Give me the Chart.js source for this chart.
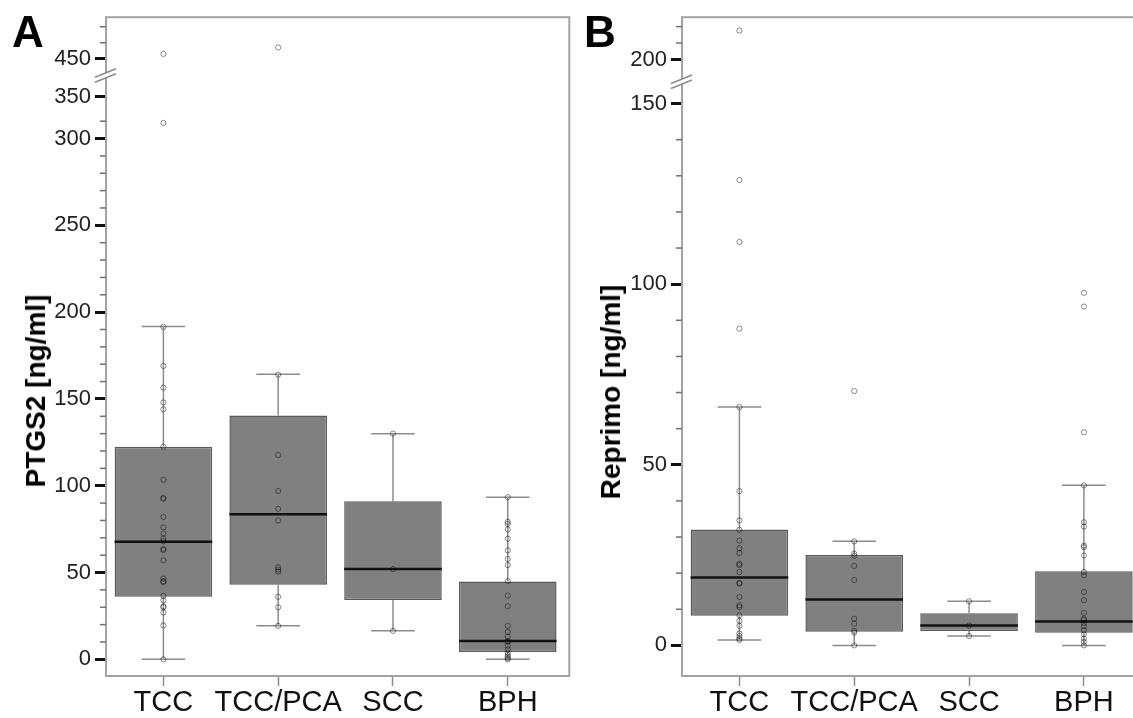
<!DOCTYPE html>
<html>
<head>
<meta charset="utf-8">
<script src="https://cdn.jsdelivr.net/npm/chart.js@4.4.0/dist/chart.umd.min.js"></script>
<style>
  html, body { margin: 0; padding: 0; width: 1133px; height: 718px; overflow: hidden; background: #fff;
    font-family: "Liberation Sans", Arial, sans-serif; }
  canvas { position: absolute; top: 0; }
  #chartA { left: 0; }
  #chartB { left: 575px; }
  .letter { position: absolute; font-weight: bold; font-size: 44px; line-height: 44px; color: #000; }
  .ytitle { position: absolute; font-weight: bold; font-size: 28px; line-height: 28px; white-space: nowrap;
    color: #000; transform: translate(-50%, -50%) rotate(-90deg); }
</style>
</head>
<body>
<canvas id="chartA" width="575" height="718"></canvas>
<canvas id="chartB" width="575" height="718"></canvas>
<div class="letter" style="left:12px; top:10px">A</div>
<div class="letter" style="left:584px; top:10px">B</div>
<div class="ytitle" style="left:36px; top:391px">PTGS2 [ng/ml]</div>
<div class="ytitle" style="left:611px; top:392px">Reprimo [ng/ml]</div>

<script>
const categories = ['TCC', 'TCC/PCA', 'SCC', 'BPH'];

// Panel A - PTGS2 [ng/ml]
const ptgs2Points = [
  [0, 19.5, 27, 30, 30.5, 34, 36.5, 44.5, 45, 46.5, 57, 63, 63.5, 68, 69.5, 72.5, 76, 82, 92.5, 93,
   103.5, 122.5, 144, 148, 156.5, 169, 191.5, 309, 453],
  [19.3, 30, 36, 50.5, 51.7, 53, 80, 86.7, 97, 117.7, 164, 457],
  [16.4, 52, 130],
  [0, 0.6, 1.5, 2.5, 3.8, 5.7, 7.8, 10.1, 10.5, 13, 15.8, 19.3, 30.6, 36.7, 45.1, 54.3, 57.8, 62.8,
   69.5, 74.8, 78, 79.2, 93.4]
];
const ptgs2WhiskerLow = [0, 19.3, 16.4, 0];
const ptgs2Q1 = [36, 43, 34.2, 4.2];
const ptgs2Median = [67.7, 83.6, 52, 10.5];
const ptgs2Q3 = [122.5, 140.5, 91, 44.8];
const ptgs2WhiskerHigh = [191.8, 164.2, 130, 93.4];
const ptgs2Ticks = [0, 50, 100, 150, 200, 250, 300, 350, 450];
const ptgs2Minor = [10, 20, 30, 40, 60, 70, 80, 90, 110, 120, 130, 140, 160, 170, 180, 190,
  210, 220, 230, 240, 260, 270, 280, 290, 310, 460, 470];

// Panel B - Reprimo [ng/ml]
const reprimoPoints = [
  [1.5, 1.9, 2.6, 3.3, 5.4, 6.8, 8.3, 10.6, 11.1, 13.4, 17.1, 17.3, 20.3, 22.2, 22.6, 25.6, 26.9, 29,
   32, 34.6, 42.7, 66, 87.7, 111.7, 128.8, 217.6],
  [0, 3.5, 4, 6, 7.4, 18.1, 22, 24.8, 25.4, 28.8, 70.4],
  [2.6, 5.5, 12.2],
  [0, 1, 1.9, 3.1, 4.2, 5.3, 6.2, 7, 7.4, 9, 12.5, 14.8, 19.4, 20.3, 24.9, 27.2, 27.6, 32.9, 34.1,
   44.3, 59, 93.8, 97.6]
];
const reprimoWhiskerLow = [1.5, 0, 2.6, 0];
const reprimoQ1 = [8.2, 3.75, 4, 3.5];
const reprimoMedian = [18.8, 12.7, 5.5, 6.6];
const reprimoQ3 = [32.1, 25, 8.9, 20.5];
const reprimoWhiskerHigh = [66, 28.8, 12.2, 44.3];
const reprimoTicks = [0, 50, 100, 150, 200];
const reprimoMinor = [10, 20, 30, 40, 60, 70, 80, 90, 110, 120, 130, 140, 210, 220];

// broken axis: piecewise linear map from value to axis units
function brokenAxis(knots) {
  return v => {
    for (let i = 1; i < knots.length; i++) {
      const [x0, y0] = knots[i - 1], [x1, y1] = knots[i];
      if (v <= x1 || i === knots.length - 1) return y0 + (v - x0) * (y1 - y0) / (x1 - x0);
    }
  };
}

function buildDatasets(points, lo, q1, med, q3, hi, tr) {
  const cap = 0.19, half = 0.425;
  const whiskers = [], medians = [];
  categories.forEach((c, i) => {
    whiskers.push(
      {x: i, y: tr(lo[i])}, {x: i, y: tr(q1[i])}, {x: i, y: null},
      {x: i, y: tr(q3[i])}, {x: i, y: tr(hi[i])}, {x: i, y: null},
      {x: i - cap, y: tr(lo[i])}, {x: i + cap, y: tr(lo[i])}, {x: i, y: null},
      {x: i - cap, y: tr(hi[i])}, {x: i + cap, y: tr(hi[i])}, {x: i, y: null}
    );
    medians.push({x: i - half, y: tr(med[i])}, {x: i + half, y: tr(med[i])}, {x: i, y: null});
  });
  const dots = [];
  points.forEach((list, i) => list.forEach(v => dots.push({x: i, y: tr(v)})));

  return [
    {
      type: 'scatter', data: dots, order: 0,
      pointRadius: 2.6, pointBorderWidth: 1,
      pointBackgroundColor: 'rgba(0,0,0,0)', pointBorderColor: 'rgba(0,0,0,0.45)'
    },
    {
      type: 'line', data: medians, order: 1, spanGaps: false,
      borderColor: '#111', borderWidth: 2.5, pointRadius: 0
    },
    {
      type: 'line', data: whiskers, order: 2, spanGaps: false,
      borderColor: '#8c8c8c', borderWidth: 1.5, pointRadius: 0
    },
    {
      type: 'bar', order: 3,
      data: categories.map((c, i) => ({x: i, y: [tr(q1[i]), tr(q3[i])]})),
      backgroundColor: '#808080', borderColor: '#5a5a5a', borderWidth: 1.5, borderSkipped: false,
      barPercentage: 0.85, categoryPercentage: 1
    }
  ];
}

function frameAndBreak(minor, tr, breakAt) {
  return {
    id: 'frameAndBreak',
    beforeDatasetsDraw(chart) {
      const {ctx, chartArea: a} = chart;
      const y = chart.scales.y;
      ctx.save();
      ctx.strokeStyle = '#a3a3a3';
      ctx.lineWidth = 2;
      ctx.strokeRect(a.left, a.top, a.right - a.left, a.bottom - a.top);
      // minor ticks
      ctx.strokeStyle = '#707070';
      ctx.lineWidth = 1.5;
      minor.forEach(v => {
        const py = y.getPixelForValue(tr(v));
        ctx.beginPath();
        ctx.moveTo(a.left - 6, py);
        ctx.lineTo(a.left, py);
        ctx.stroke();
      });
      // axis break marks
      const by = y.getPixelForValue(breakAt);
      const x = a.left;
      ctx.fillStyle = '#fff';
      ctx.beginPath();
      ctx.moveTo(x - 11, by + 2); ctx.lineTo(x + 10, by - 6.5);
      ctx.lineTo(x + 10, by - 1.5); ctx.lineTo(x - 11, by + 7);
      ctx.closePath();
      ctx.fill();
      ctx.strokeStyle = '#8c8c8c';
      ctx.lineWidth = 1.5;
      [[2, -6.5], [7, -1.5]].forEach(([y0, y1]) => {
        ctx.beginPath();
        ctx.moveTo(x - 11, by + y0);
        ctx.lineTo(x + 10, by + y1);
        ctx.stroke();
      });
      ctx.restore();
    }
  };
}

function makeChart(id, cfg) {
  const tr = cfg.tr;
  new Chart(document.getElementById(id), {
    type: 'bar',
    data: {datasets: buildDatasets(cfg.points, cfg.lo, cfg.q1, cfg.med, cfg.q3, cfg.hi, tr)},
    plugins: [frameAndBreak(cfg.minor, tr, cfg.breakAt)],
    options: {
      responsive: false,
      animation: false,
      layout: {padding: {left: 0, right: cfg.padRight, top: 15, bottom: 0}},
      plugins: {legend: {display: false}, tooltip: {enabled: false}},
      scales: {
        x: {
          type: 'linear', min: -0.5, max: cfg.xMax, offset: false,
          afterBuildTicks: s => { s.ticks = categories.map((c, i) => ({value: i})); },
          afterFit: s => { s.height = 42; },
          grid: {display: true, offset: false, drawOnChartArea: false, tickLength: 10,
                 tickColor: '#8c8c8c', tickWidth: 1.5},
          border: {display: false},
          ticks: {autoSkip: false, maxRotation: 0, padding: 0, color: '#111',
                  font: {family: 'Liberation Sans, Arial, sans-serif', size: 29},
                  callback: (v, i) => categories[i]}
        },
        y: {
          type: 'linear', min: cfg.yMin, max: cfg.yMax,
          afterBuildTicks: s => { s.ticks = cfg.ticks.map(v => ({value: tr(v)})); },
          afterFit: s => { s.width = cfg.axisWidth; },
          grid: {display: true, drawOnChartArea: false, tickLength: 11, tickColor: '#111', tickWidth: 3},
          border: {display: false},
          ticks: {autoSkip: false, padding: 4, color: '#222',
                  font: {family: 'Liberation Sans, Arial, sans-serif', size: 22},
                  callback: (v, i) => String(cfg.ticks[i])}
        }
      }
    }
  });
}

const trA = brokenAxis([[0, 0], [310, 310], [350, 324], [450, 346], [470, 364.4]]);
makeChart('chartA', {
  tr: trA, points: ptgs2Points, lo: ptgs2WhiskerLow, q1: ptgs2Q1, med: ptgs2Median,
  q3: ptgs2Q3, hi: ptgs2WhiskerHigh, ticks: ptgs2Ticks, minor: ptgs2Minor,
  breakAt: (trA(350) + trA(450)) / 2 + 1.5,
  yMin: -9.6, yMax: 369.9, xMax: 3.536, axisWidth: 106, padRight: 5.7
});

const trB = brokenAxis([[0, 0], [150, 150], [200, 162.2], [220, 171.3]]);
makeChart('chartB', {
  tr: trB, points: reprimoPoints, lo: reprimoWhiskerLow, q1: reprimoQ1, med: reprimoMedian,
  q3: reprimoQ3, hi: reprimoWhiskerHigh, ticks: reprimoTicks, minor: reprimoMinor,
  breakAt: (trB(150) + trB(200)) / 2,
  yMin: -8.47, yMax: 173.9, xMax: 3.5, axisWidth: 107, padRight: 8.7
});
</script>
</body>
</html>
